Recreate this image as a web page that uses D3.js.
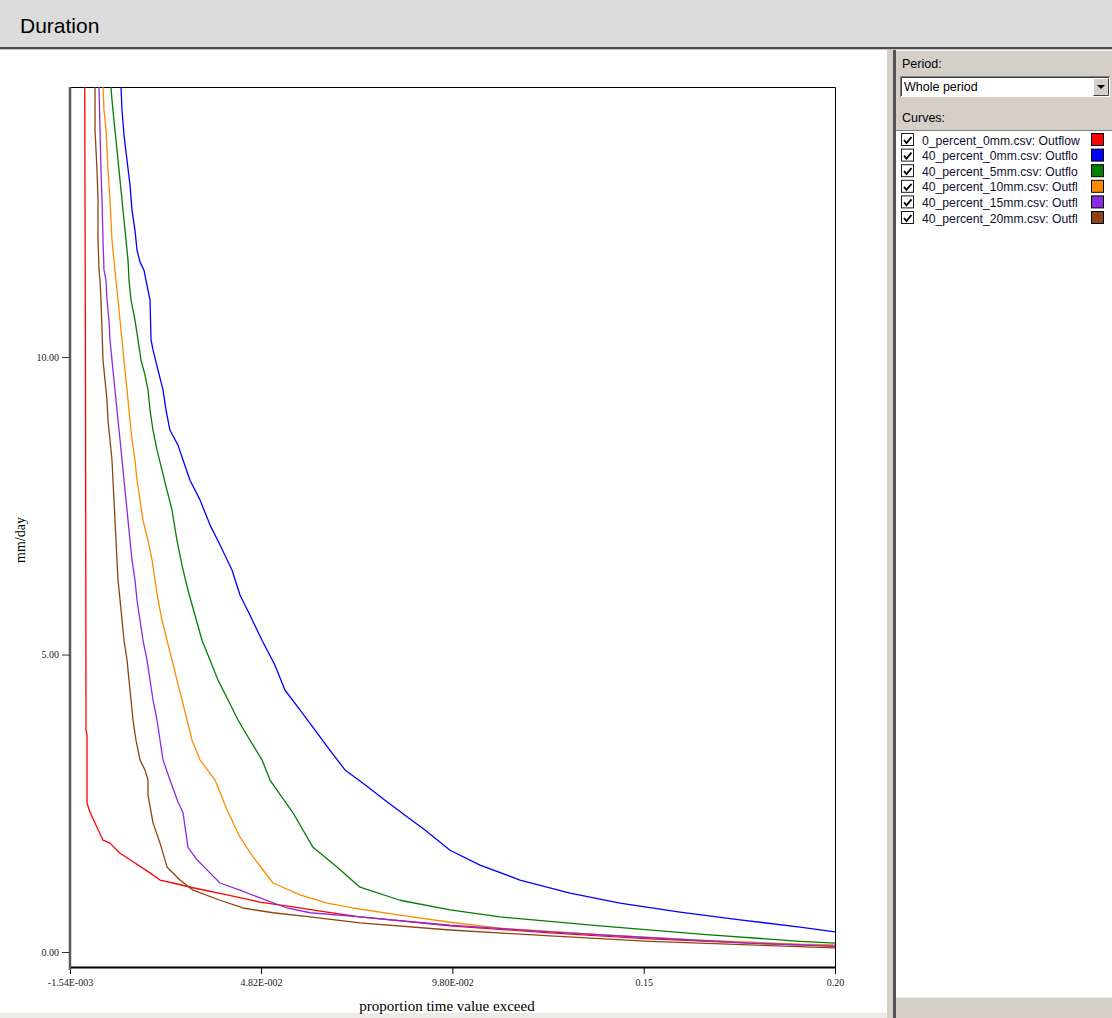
<!DOCTYPE html>
<html><head><meta charset="utf-8">
<script src="https://cdn.jsdelivr.net/npm/d3@7"></script>
<style>
html,body{margin:0;padding:0;background:#fff;overflow:hidden}
svg{display:block}
</style></head>
<body>
<svg id="chart" width="1112" height="1018"></svg>
<script>
// ---------- data ----------
const seriesNames = [
  "0_percent_0mm.csv: Outflow",
  "40_percent_0mm.csv: Outflo",
  "40_percent_5mm.csv: Outflo",
  "40_percent_10mm.csv: Outfl",
  "40_percent_15mm.csv: Outfl",
  "40_percent_20mm.csv: Outfl"
];
const seriesColors = ["#ff0000", "#0000ff", "#007f00", "#ff8c00", "#8a2be2", "#8b4513"];

const red0 = [[0.00223,16],[0.00250,9.5],[0.00263,3.73],[0.00289,3.65],[0.00289,2.50],[0.00367,2.35],[0.00497,2.17],[0.00705,1.88],[0.00887,1.83],[0.01148,1.66],[0.01408,1.55],[0.01929,1.33],[0.02189,1.21],[0.02527,1.16],[0.03048,1.08],[0.03933,0.96],[0.04792,0.84],[0.05651,0.76],[0.06536,0.67],[0.07395,0.59],[0.09738,0.44],[0.12341,0.32],[0.14944,0.22],[0.17547,0.15],[0.19760,0.10]];

const blue0 = [[0.01174,16],[0.01174,14.54],[0.01200,14.15],[0.01252,13.73],[0.01330,13.31],[0.01408,12.89],[0.01460,12.47],[0.01538,12.13],[0.01590,11.80],[0.01668,11.60],[0.01772,11.46],[0.01824,11.29],[0.01929,10.96],[0.01955,10.29],[0.02007,10.12],[0.02137,9.78],[0.02267,9.45],[0.02345,9.11],[0.02449,8.77],[0.02657,8.52],[0.02788,8.27],[0.02970,7.93],[0.03230,7.60],[0.03490,7.18],[0.03751,6.84],[0.04063,6.42],[0.04271,6.00],[0.04532,5.66],[0.04844,5.24],[0.05182,4.82],[0.05443,4.40],[0.05833,4.07],[0.06224,3.73],[0.06614,3.39],[0.07005,3.06],[0.07525,2.81],[0.08046,2.55],[0.08567,2.30],[0.09087,2.05],[0.09738,1.71],[0.10519,1.46],[0.11560,1.21],[0.12862,0.99],[0.14163,0.82],[0.15725,0.67],[0.17287,0.54],[0.18849,0.42],[0.19760,0.34]];

const green5 = [[0.00913,16],[0.00913,14.54],[0.00939,14.32],[0.00991,13.98],[0.01043,13.65],[0.01096,13.31],[0.01148,12.97],[0.01200,12.64],[0.01252,12.30],[0.01304,11.97],[0.01356,11.63],[0.01382,11.29],[0.01434,10.96],[0.01538,10.62],[0.01616,10.29],[0.01694,9.95],[0.01798,9.70],[0.01876,9.45],[0.01929,9.11],[0.02007,8.77],[0.02111,8.44],[0.02241,8.10],[0.02371,7.76],[0.02501,7.43],[0.02631,6.92],[0.02762,6.50],[0.02918,6.08],[0.03100,5.66],[0.03282,5.24],[0.03490,4.91],[0.03699,4.57],[0.03959,4.24],[0.04219,3.90],[0.04532,3.56],[0.04844,3.23],[0.05052,2.89],[0.05651,2.34],[0.06172,1.76],[0.06796,1.43],[0.07395,1.09],[0.08436,0.87],[0.09738,0.71],[0.11040,0.59],[0.13643,0.44],[0.16246,0.30],[0.18849,0.18],[0.19760,0.15]];

const orange10 = [[0.00705,16],[0.00705,14.54],[0.00731,14.15],[0.00783,13.82],[0.00809,13.48],[0.00835,13.14],[0.00887,12.64],[0.00913,12.30],[0.00939,11.97],[0.00991,11.63],[0.01043,11.29],[0.01096,10.96],[0.01148,10.62],[0.01200,10.29],[0.01252,9.95],[0.01304,9.61],[0.01356,9.28],[0.01408,8.94],[0.01460,8.61],[0.01538,8.27],[0.01590,7.93],[0.01668,7.60],[0.01746,7.26],[0.01876,6.92],[0.01981,6.59],[0.02059,6.25],[0.02137,5.92],[0.02241,5.58],[0.02371,5.24],[0.02501,4.91],[0.02631,4.57],[0.02762,4.24],[0.02892,3.90],[0.03022,3.56],[0.03230,3.23],[0.03621,2.89],[0.03933,2.39],[0.04271,1.93],[0.04610,1.60],[0.05130,1.16],[0.05833,0.96],[0.06536,0.82],[0.07213,0.74],[0.08436,0.62],[0.09738,0.50],[0.11040,0.40],[0.13643,0.29],[0.16246,0.20],[0.18849,0.13],[0.19760,0.12]];

const purple15 = [[0.00601,16],[0.00601,14.54],[0.00627,13.82],[0.00653,13.14],[0.00679,12.64],[0.00705,11.97],[0.00731,11.46],[0.00783,11.29],[0.00809,10.96],[0.00861,10.62],[0.00887,10.29],[0.00939,9.95],[0.00991,9.61],[0.01043,9.28],[0.01096,8.94],[0.01148,8.61],[0.01200,8.27],[0.01252,7.93],[0.01304,7.60],[0.01356,7.26],[0.01408,6.92],[0.01460,6.59],[0.01538,6.25],[0.01590,5.92],[0.01668,5.58],[0.01746,5.24],[0.01850,4.91],[0.01929,4.57],[0.02007,4.24],[0.02111,3.90],[0.02189,3.56],[0.02267,3.23],[0.02449,2.89],[0.02657,2.52],[0.02788,2.34],[0.02918,1.76],[0.03152,1.55],[0.03412,1.38],[0.03751,1.16],[0.04271,1.04],[0.04792,0.91],[0.05495,0.74],[0.06094,0.66],[0.07395,0.59],[0.09738,0.45],[0.12341,0.34],[0.14944,0.24],[0.17547,0.15],[0.19760,0.10]];

const brown20 = [[0.00497,16],[0.00497,13.82],[0.00523,13.48],[0.00549,13.14],[0.00575,12.64],[0.00575,11.97],[0.00601,11.46],[0.00627,11.29],[0.00653,10.96],[0.00679,10.45],[0.00705,9.95],[0.00757,9.61],[0.00809,9.28],[0.00835,8.94],[0.00887,8.61],[0.00939,8.27],[0.00965,7.93],[0.00991,7.60],[0.01017,7.26],[0.01043,6.92],[0.01069,6.59],[0.01096,6.25],[0.01148,5.92],[0.01200,5.58],[0.01252,5.24],[0.01330,4.91],[0.01382,4.57],[0.01434,4.24],[0.01486,3.90],[0.01564,3.56],[0.01668,3.23],[0.01798,3.06],[0.01876,2.89],[0.01876,2.64],[0.02007,2.17],[0.02189,1.83],[0.02371,1.43],[0.02709,1.21],[0.03048,1.04],[0.03751,0.87],[0.04349,0.74],[0.05130,0.66],[0.06094,0.59],[0.07395,0.49],[0.09738,0.37],[0.12341,0.27],[0.14944,0.18],[0.17547,0.12],[0.19760,0.07]];

const seriesData = [red0, blue0, green5, orange10, purple15, brown20];

const xTickValues = [-0.00154, 0.0482, 0.098, 0.1478, 0.1976];
const xTickLabels = ["-1.54E-003", "4.82E-002", "9.80E-002", "0.15", "0.20"];
const yTickValues = [0, 5, 10];
const yTickLabels = ["0.00", "5.00", "10.00"];

// ---------- layout ----------
const svg = d3.select("#chart");
const W = 1112, H = 1018;
const plot = {left: 70, right: 835, top: 87, bottom: 967};

// background regions
svg.append("rect").attr("x",0).attr("y",0).attr("width",W).attr("height",H).attr("fill","#ecebe8");
svg.append("rect").attr("x",0).attr("y",50).attr("width",887).attr("height",963).attr("fill","#ffffff");
// header
svg.append("rect").attr("x",0).attr("y",0).attr("width",W).attr("height",47).attr("fill","#dcdcdc");
svg.append("rect").attr("x",0).attr("y",47).attr("width",W).attr("height",2).attr("fill","#4a4a4a");
svg.append("rect").attr("x",0).attr("y",49).attr("width",W).attr("height",1).attr("fill","#c8c8c8");
svg.append("text").attr("x",20).attr("y",33).text("Duration")
  .attr("font-family","'Liberation Sans', Arial, sans-serif").attr("font-size",21).attr("fill","#000");

// splitter
svg.append("rect").attr("x",887).attr("y",50).attr("width",6).attr("height",H-50).attr("fill","#d4d0c8");
svg.append("rect").attr("x",893).attr("y",50).attr("width",3).attr("height",H-50).attr("fill","#555");

// right panel
const panelX = 896;
svg.append("rect").attr("x",panelX).attr("y",50).attr("width",W-panelX).attr("height",80).attr("fill","#d4d0c8");
svg.append("rect").attr("x",panelX).attr("y",50).attr("width",W-panelX).attr("height",1).attr("fill","#f4f3ee");
const uiFont = "'Liberation Sans', Arial, sans-serif";
svg.append("text").attr("x",902).attr("y",68).text("Period:").attr("font-family",uiFont).attr("font-size",12.5).attr("fill","#000");
// combo box
svg.append("rect").attr("x",900).attr("y",76).attr("width",210).attr("height",21).attr("fill","#fff");
svg.append("path").attr("d","M900.5,97 V76.5 H1110").attr("stroke","#808080").attr("fill","none");
svg.append("path").attr("d","M901.5,96 V77.5 H1109").attr("stroke","#404040").attr("fill","none");
svg.append("text").attr("x",904).attr("y",91).text("Whole period").attr("font-family",uiFont).attr("font-size",12.5).attr("fill","#000");
svg.append("rect").attr("x",1093).attr("y",78).attr("width",16).attr("height",18).attr("fill","#d4d0c8");
svg.append("path").attr("d","M1093.5,95.5 V78.5 H1108.5").attr("stroke","#fff").attr("fill","none");
svg.append("path").attr("d","M1093.5,95.5 H1108.5 V78.5").attr("stroke","#404040").attr("fill","none");
svg.append("path").attr("d","M1097,85 h8 l-4,4 z").attr("fill","#000");
svg.append("text").attr("x",902).attr("y",122).text("Curves:").attr("font-family",uiFont).attr("font-size",12.5).attr("fill","#000");

// list box
svg.append("rect").attr("x",panelX).attr("y",130).attr("width",W-panelX).attr("height",867).attr("fill","#fff");
svg.append("rect").attr("x",panelX).attr("y",130).attr("width",W-panelX).attr("height",1).attr("fill","#808080");
svg.append("rect").attr("x",panelX).attr("y",997).attr("width",W-panelX).attr("height",21).attr("fill","#d4d0c8");
svg.append("rect").attr("x",panelX).attr("y",997).attr("width",W-panelX).attr("height",1).attr("fill","#eeeeea");

const legend = svg.append("g");
seriesNames.forEach((name, i) => {
  const cy = 140 + i * 15.6;
  const g = legend.append("g");
  g.append("rect").attr("x",901.5).attr("y",cy-6.5).attr("width",12).attr("height",12)
    .attr("fill","#fff").attr("stroke","#1c1c1c");
  g.append("path").attr("d",`M904,${cy} l2.5,3 l5,-6`).attr("stroke","#000").attr("stroke-width",1.8).attr("fill","none");
  g.append("text").attr("x",922).attr("y",cy+4.5).text(name)
    .attr("font-family",uiFont).attr("font-size",12.2).attr("fill","#101030");
  g.append("rect").attr("x",1091.5).attr("y",cy-6.5).attr("width",12).attr("height",12)
    .attr("fill",seriesColors[i]).attr("stroke","#000");
});

// ---------- scales ----------
const x = d3.scaleLinear().domain([-0.00154, 0.1976]).range([plot.left, plot.right]);
const y = d3.scaleLinear().domain([-0.252, 14.54]).range([plot.bottom, plot.top]);

svg.append("clipPath").attr("id","clip").append("rect")
  .attr("x",plot.left).attr("y",plot.top).attr("width",plot.right-plot.left).attr("height",plot.bottom-plot.top);

// frame (top, right)
svg.append("path").attr("d",`M${plot.left},${plot.top+0.5} H${plot.right+0.5} V${plot.bottom}`)
  .attr("stroke","#000").attr("fill","none").attr("stroke-width",1);

// curves
const line = d3.line().x(d => x(d[0])).y(d => y(d[1]));
const curves = svg.append("g").attr("clip-path","url(#clip)");
seriesData.forEach((d, i) => {
  curves.append("path").datum(d).attr("d", line).attr("fill","none")
    .attr("stroke", seriesColors[i]).attr("stroke-width", 1.3).attr("stroke-linejoin","round");
});

// axes
const tickFont = "'Liberation Serif', 'Times New Roman', serif";
const xAxis = d3.axisBottom(x).tickValues(xTickValues).tickFormat((d,i) => xTickLabels[i]).tickSize(7).tickSizeOuter(0);
const gx = svg.append("g").attr("transform",`translate(0,${plot.bottom})`).call(xAxis);
gx.select(".domain").attr("stroke","#000").attr("stroke-width",2);
gx.selectAll(".tick line").attr("stroke","#000").attr("stroke-width",1);
gx.selectAll(".tick text").attr("font-family",tickFont).attr("font-size",10).attr("fill","#222").attr("dy","0.9em");

const yAxis = d3.axisLeft(y).tickValues(yTickValues).tickFormat((d,i) => yTickLabels[i]).tickSize(8).tickSizeOuter(0);
const gy = svg.append("g").attr("transform",`translate(${plot.left},0)`).call(yAxis);
gy.select(".domain").attr("stroke","#5a5a5a").attr("stroke-width",2.5)
  .attr("d",`M0,${plot.top} V${plot.bottom+3}`);
gy.selectAll(".tick line").attr("stroke","#333").attr("stroke-width",1);
gy.selectAll(".tick text").attr("font-family",tickFont).attr("font-size",10).attr("fill","#222").attr("x",-11);

// axis titles
svg.append("text").attr("transform","translate(25,540) rotate(-90)").attr("text-anchor","middle")
  .text("mm/day").attr("font-family",tickFont).attr("font-size",14).attr("fill","#000");
svg.append("text").attr("x",447).attr("y",1011).attr("text-anchor","middle")
  .text("proportion time value exceed").attr("font-family",tickFont).attr("font-size",15).attr("fill","#000");
</script>
</body></html>
